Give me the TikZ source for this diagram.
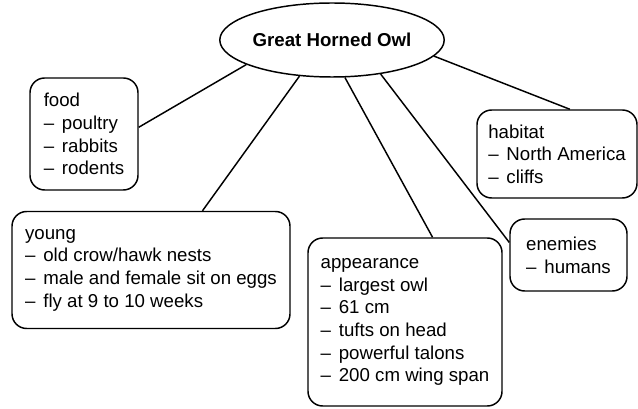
\documentclass[tikz,border=0pt]{standalone}
\usepackage{fontspec}
\setmainfont{Liberation Sans}
\usepackage{tikz}
\usetikzlibrary{shapes.geometric}

\newcommand{\itm}{\textendash\hspace{0.42em}}

\begin{document}
\begin{tikzpicture}[x=0.75pt, y=-0.75pt, line width=1.1pt,
  topic/.style={draw, rounded corners=11pt, align=left, inner sep=0pt, font=\fontsize{14}{17}\selectfont},
  main/.style={draw, ellipse, inner sep=0pt, font=\fontsize{14}{17}\selectfont\bfseries}]

\useasboundingbox (0,0) rectangle (638,409);

\node[main, minimum width=166.5pt, minimum height=55.5pt] (owl) at (332,40) {Great Horned Owl};

% Themenkaesten
\node[topic, minimum width=81pt, minimum height=84pt] (food) at (84,134)
  {food\\\itm poultry\\\itm rabbits\\\itm rodents};
\node[topic, minimum width=208.5pt, minimum height=87.75pt] (young) at (151,270)
  {young\\\itm old crow/hawk nests\\\itm male and female sit on eggs\\\itm fly at 9 to 10 weeks};
\node[topic, minimum width=145.5pt, minimum height=126pt] (look) at (405,322)
  {appearance\\\itm largest owl\\\itm 61 cm\\\itm tufts on head\\\itm powerful talons\\\itm 200 cm wing span};
\node[topic, minimum width=120pt, minimum height=66pt] (habitat) at (557,154)
  {habitat\\\itm North America\\\itm cliffs};
\node[topic, minimum width=87.75pt, minimum height=54pt] (enemies) at (568.5,255)
  {enemies\\\itm humans};

% Verbindungen zur Mitte
\draw (food.7) -- (owl.196);
\draw (young.49) -- (owl.228);
\draw (look.72) -- (owl.289);
\draw (enemies.168) -- (owl.325);
\draw (habitat.74) -- (owl.351);

\end{tikzpicture}
\end{document}
